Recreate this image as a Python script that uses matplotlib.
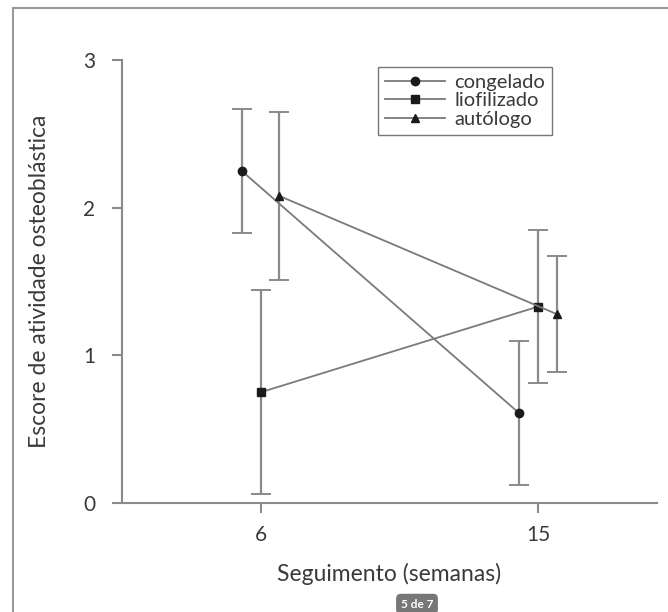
import numpy as np
import matplotlib
matplotlib.use("Agg")
import matplotlib.pyplot as plt
from matplotlib.lines import Line2D

# Dados
semanas = [6, 15]
series = ["congelado", "liofilizado", "autólogo"]
congelado = [2.25, 0.61]
congelado_err = [0.42, 0.49]
liofilizado = [0.75, 1.33]
liofilizado_err = [0.69, 0.52]
autologo = [2.08, 1.28]
autologo_err = [0.57, 0.39]
deslocamento = [-0.62, 0.0, 0.6]
marcadores = ["o", "s", "^"]

plt.rcParams['font.family'] = ['Lato', 'DejaVu Sans']

fig = plt.figure(figsize=(6.68, 6.12), dpi=100)
ax = fig.add_axes([0.1826, 0.178, 0.8009, 0.724])

cinza = "#7a7a7a"
texto = "#3a3a3a"
valores = [congelado, liofilizado, autologo]
erros = [congelado_err, liofilizado_err, autologo_err]
for nome, y, e, dx, m in zip(series, valores, erros, deslocamento, marcadores):
    x = np.array(semanas) + dx
    ax.errorbar(x, y, yerr=e, fmt="none", ecolor="#8a8a8a", elinewidth=1.6,
                capsize=7, capthick=1.4, zorder=2)
    ax.plot(x, y, color=cinza, lw=1.3, marker=m, markersize=6,
            markerfacecolor="#1a1a1a", markeredgecolor="#1a1a1a",
            label=nome, zorder=3)

ax.set_xlim(1.5, 18.86)
ax.set_ylim(0, 3)
ax.set_xticks(semanas)
ax.set_yticks([0, 1, 2, 3])
for s in ["top", "right"]:
    ax.spines[s].set_visible(False)
for s in ["left", "bottom"]:
    ax.spines[s].set_color("#8a8a8a")
    ax.spines[s].set_linewidth(1.5)
ax.tick_params(axis="both", colors="#8a8a8a", length=7, width=1.5,
               labelsize=15, labelcolor=texto)
ax.tick_params(axis="y", pad=12)
ax.tick_params(axis="x", pad=9)

ax.set_xlabel("Seguimento (semanas)", fontsize=16.5, color=texto, labelpad=13)
ax.set_ylabel("Escore de atividade osteoblástica", fontsize=16.5,
              color=texto, labelpad=24)

leg = ax.legend(loc="upper left", bbox_to_anchor=(0.478, 0.985), fontsize=14.5,
                frameon=True, fancybox=False, handlelength=3.0,
                handletextpad=0.45, borderpad=0.35, labelspacing=0.08,
                borderaxespad=0.0)
leg.get_frame().set_edgecolor("#555555")
leg.get_frame().set_linewidth(1.0)
for t in leg.get_texts():
    t.set_color(texto)

# moldura da página
fig.add_artist(Line2D([13 / 668, 1.0], [1 - 8 / 612, 1 - 8 / 612],
                      transform=fig.transFigure, color="#9a9a9a", lw=1.5))
fig.add_artist(Line2D([13 / 668, 13 / 668], [0.0, 1 - 8 / 612],
                      transform=fig.transFigure, color="#9a9a9a", lw=1.5))

# indicador de página
fig.text(417 / 668, 1 - 604 / 612, "5 de 7", fontsize=8.5, fontweight="bold",
         color="white", ha="center", va="center",
         bbox=dict(boxstyle="round,pad=0.4", fc="#777777", ec="none"))

fig.savefig("out.png", dpi=100)
